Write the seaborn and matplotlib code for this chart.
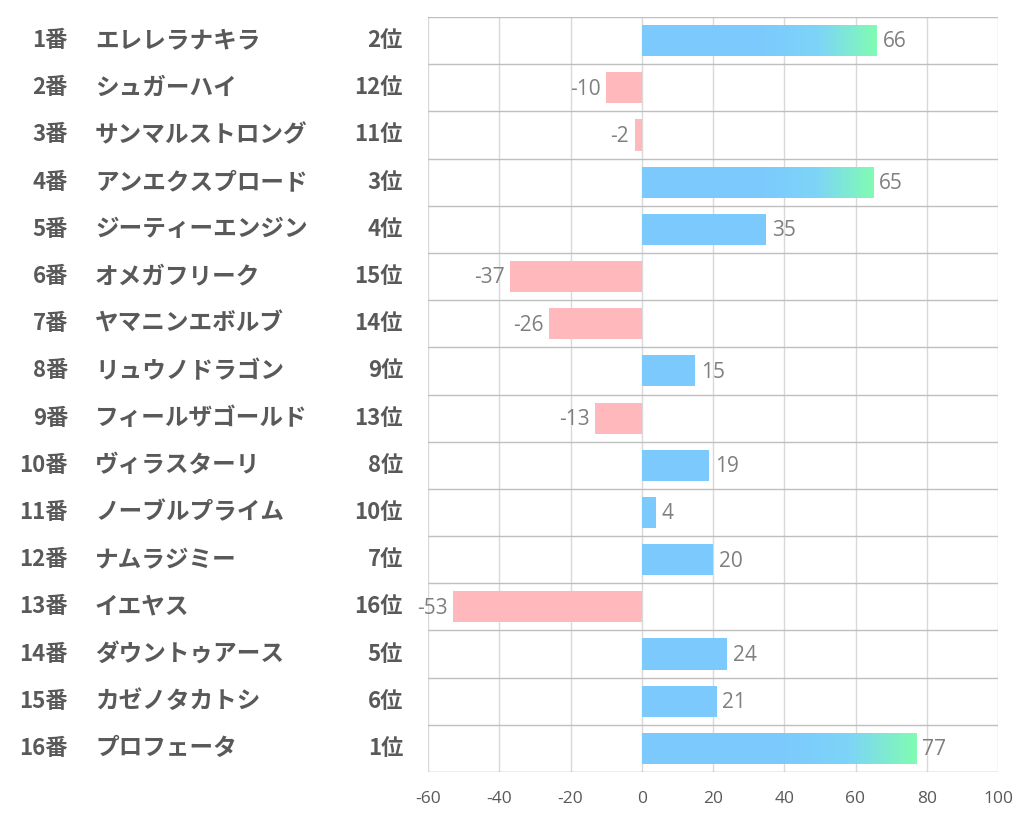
import matplotlib
matplotlib.use("Agg")
import matplotlib.pyplot as plt
import numpy as np
import pandas as pd
import seaborn as sns
from matplotlib.colors import LinearSegmentedColormap
from matplotlib.transforms import blended_transform_factory

numbers = ["1番", "2番", "3番", "4番", "5番", "6番", "7番", "8番",
           "9番", "10番", "11番", "12番", "13番", "14番", "15番", "16番"]
names = ["エレレラナキラ", "シュガーハイ", "サンマルストロング", "アンエクスプロード",
         "ジーティーエンジン", "オメガフリーク", "ヤマニンエボルブ", "リュウノドラゴン",
         "フィールザゴールド", "ヴィラスターリ", "ノーブルプライム", "ナムラジミー",
         "イエヤス", "ダウントゥアース", "カゼノタカトシ", "プロフェータ"]
ranks = ["2位", "12位", "11位", "3位", "4位", "15位", "14位", "9位",
         "13位", "8位", "10位", "7位", "16位", "5位", "6位", "1位"]
values = [66, -10, -2, 65, 35, -37, -26, 15, -13, 19, 4, 20, -53, 24, 21, 77]
x_ticks = [-60, -40, -20, 0, 20, 40, 60, 80, 100]

BLUE = "#7CCAFD"
MID = "#7DD4F8"
GREEN = "#80FCB2"
PINK = "#FFB9BC"
TEXT = "#595959"
VALUE = "#7F7F7F"

df = pd.DataFrame({"num": numbers, "value": values})
colors = [BLUE if v >= 0 else PINK for v in values]

sns.set_style("white")
plt.rcParams["font.family"] = ["Open Sans", "Noto Sans CJK JP", "DejaVu Sans"]

fig = plt.figure(figsize=(10.22, 8.34), dpi=100)
ax = fig.add_axes([428 / 1022, 62 / 834, 570 / 1022, 755 / 834])

sns.barplot(data=df, x="value", y="num", hue="num", palette=colors,
            legend=False, orient="h", width=0.66, saturation=1,
            linewidth=0, ax=ax)

# gradient on the top bars
cmap = LinearSegmentedColormap.from_list("bg", [BLUE, MID, GREEN])
grad = np.linspace(0, 1, 256).reshape(1, -1)
for patch, v in zip(ax.patches, values):
    if v >= 60:
        y0 = patch.get_y()
        h = patch.get_height()
        im = ax.imshow(grad, cmap=cmap, aspect="auto", interpolation="bilinear",
                       extent=(0.5 * v, v, y0 + h, y0), zorder=patch.get_zorder() + 0.1)
        im.set_clip_path(patch)

ax.set_ylim(15.5, -0.5)
ax.set_xlim(-60, 100)

# grid
for t in x_ticks:
    ax.axvline(t, color="#D9D9D9", lw=1, zorder=0)
for i in range(16):
    ax.axhline(i - 0.5, color="#BFBFBF", lw=1, zorder=0)
ax.axhline(15.5, color="#A6A6A6", lw=1, zorder=0)

for s in ax.spines.values():
    s.set_visible(False)

ax.set_xticks(x_ticks)
ax.set_xticklabels([str(t) for t in x_ticks], color=TEXT, fontsize=12.5)
ax.tick_params(axis="x", length=0, pad=14)
ax.set_yticks([])
ax.set_xlabel("")
ax.set_ylabel("")

# value labels
for i, v in enumerate(values):
    if v >= 0:
        ax.annotate(str(v), (v, i), xytext=(4, -1), textcoords="offset points",
                    ha="left", va="center", color=VALUE, fontsize=15)
    else:
        ax.annotate(str(v), (v, i), xytext=(-4, -1), textcoords="offset points",
                    ha="right", va="center", color=VALUE, fontsize=15)

# left-side labels
tr = blended_transform_factory(fig.transFigure, ax.transData)
jp = ["Noto Sans CJK JP", "DejaVu Sans"]
for i in range(16):
    fig.text(68 / 1022, i, numbers[i], transform=tr, ha="right", va="center",
             fontsize=16, fontweight="bold", color=TEXT, family=jp)
    fig.text(95 / 1022, i, names[i], transform=tr, ha="left", va="center",
             fontsize=17, fontweight="bold", color=TEXT, family=jp)
    fig.text(403 / 1022, i, ranks[i], transform=tr, ha="right", va="center",
             fontsize=16, fontweight="bold", color=TEXT, family=jp)

fig.savefig("out.png", dpi=100)
